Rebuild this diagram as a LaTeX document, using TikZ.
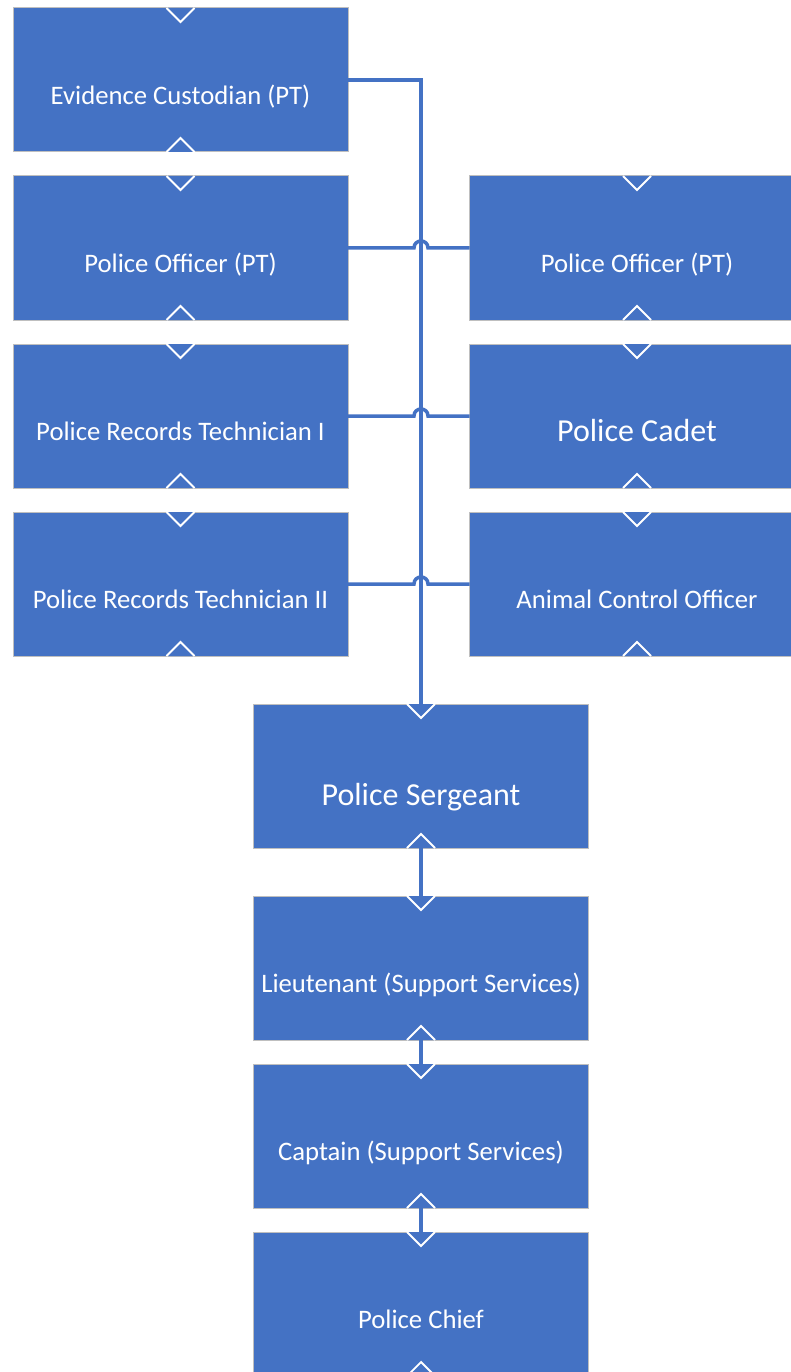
\documentclass[tikz,border=0pt]{standalone}
\usepackage{fontspec}
\setmainfont{Carlito}
\usetikzlibrary{calc}
\definecolor{boxblue}{HTML}{4472C4}
\definecolor{boxgray}{HTML}{BFBFBF}
\newcommand\toptip[1]{\path[tipstyle] ([xshift=-14pt]#1.north) -- ([yshift=-14pt]#1.north) -- ([xshift=14pt]#1.north);}
\newcommand\bottip[1]{\path[tipstyle] ([xshift=-14pt]#1.south) -- ([yshift=14pt]#1.south) -- ([xshift=14pt]#1.south);}
\begin{document}
\begin{tikzpicture}[x=1pt,y=-1pt,
  box/.style={rectangle, fill=boxblue, draw=boxgray, line width=1pt, minimum width=335pt, minimum height=144pt, inner sep=0pt, outer sep=0pt, text=white, font=\fontsize{26.7}{30}\selectfont, text height=49pt, text depth=0pt},
  bigbox/.style={box, font=\fontsize{32}{36}\selectfont, text height=58pt},
  conn/.style={draw=boxblue, line width=3.5pt},
  tipstyle/.style={fill=boxblue, draw=white, line width=1.8pt, line join=miter}]
\useasboundingbox (0,0) rectangle (791,1372);
\clip (0,0) rectangle (791,1372);
% left column
\node[box] (ec) at (180.5,80) {Evidence Custodian (PT)};
\node[box] (po1) at (180.5,248) {Police Officer (PT)};
\node[box] (prt1) at (180.5,416) {Police Records Technician I};
\node[box] (prt2) at (180.5,584) {Police Records Technician II};
% right column
\node[box] (po2) at (637,248) {Police Officer (PT)};
\node[bigbox, text height=51pt] (cadet) at (637,416) {Police Cadet};
\node[box] (aco) at (637,584) {Animal Control Officer};
% centre column
\node[bigbox] (serg) at (421,776) {Police Sergeant};
\node[box] (lieut) at (421,968) {Lieutenant (Support Services)};
\node[box] (capt) at (421,1136) {Captain (Support Services)};
\node[box] (chief) at (421,1304) {Police Chief};
% trunk
\draw[conn] (ec.east) -| (serg.north);
% horizontal connectors with hops over the trunk
\coordinate (h1) at (po1.east -| serg.north);
\coordinate (h2) at (prt1.east -| serg.north);
\coordinate (h3) at (prt2.east -| serg.north);
\foreach \a/\b/\h in {po1/po2/h1, prt1/cadet/h2, prt2/aco/h3}{
  \draw[conn] (\a.east) -- ([xshift=-7pt]\h) .. controls ([xshift=-7pt,yshift=9.3pt]\h) and ([xshift=7pt,yshift=9.3pt]\h) .. ([xshift=7pt]\h) -- (\b.west);
}
% vertical connectors
\draw[conn] (serg.south) -- (lieut.north);
\draw[conn] (lieut.south) -- (capt.north);
\draw[conn] (capt.south) -- (chief.north);
% arrow tips
\foreach \n in {ec,po1,prt1,prt2,po2,cadet,aco,serg,lieut,capt,chief}{
  \toptip{\n}
  \bottip{\n}
}
\end{tikzpicture}
\end{document}
